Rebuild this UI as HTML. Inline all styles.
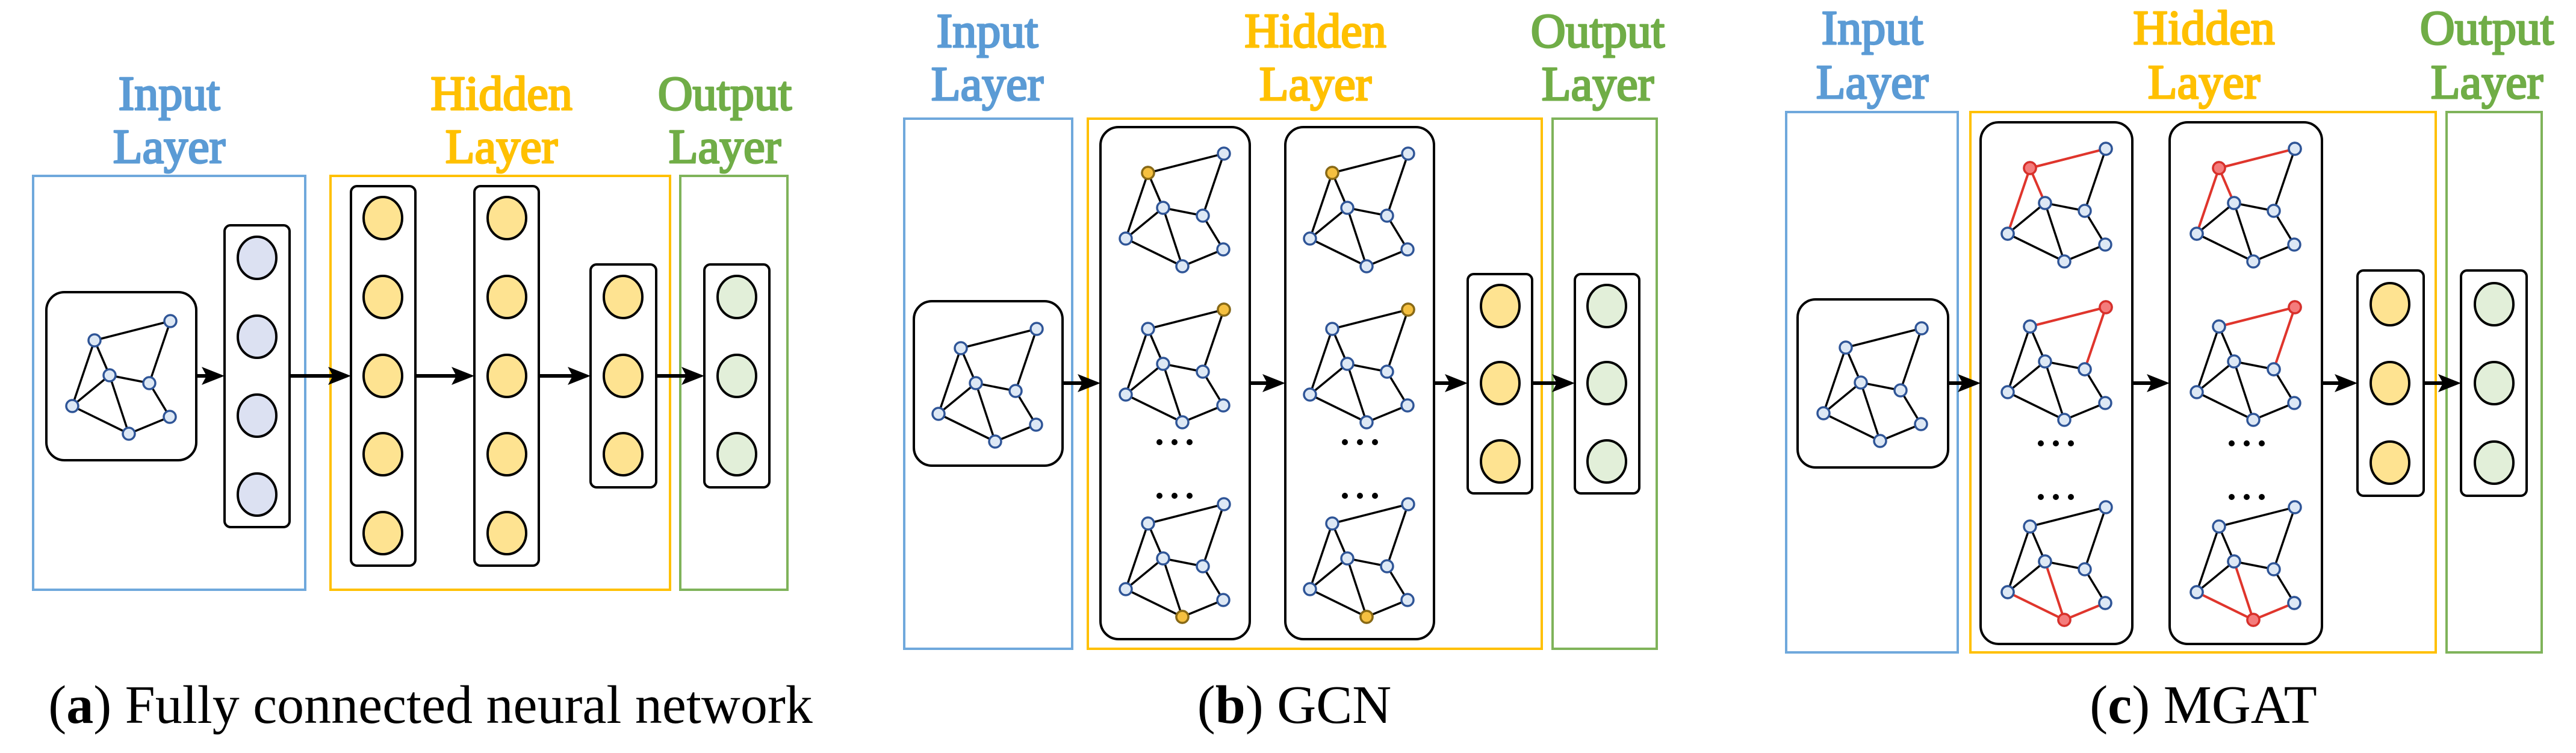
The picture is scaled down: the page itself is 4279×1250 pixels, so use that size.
<!DOCTYPE html>
<html><head><meta charset="utf-8"><style>
html,body{margin:0;padding:0;background:#fff;}
svg{display:block;}
</style></head><body>
<svg width="4279" height="1250" viewBox="0 0 4279 1250" xmlns="http://www.w3.org/2000/svg">
<defs>
<g id="gr">
 <g stroke="#000" stroke-width="3.5" fill="none">
  <line x1="206" y1="48" x2="80" y2="80"/><line x1="80" y1="80" x2="43" y2="189"/>
  <line x1="80" y1="80" x2="105" y2="138"/><line x1="105" y1="138" x2="43" y2="189"/>
  <line x1="105" y1="138" x2="137" y2="235"/><line x1="105" y1="138" x2="171" y2="151"/>
  <line x1="171" y1="151" x2="206" y2="48"/><line x1="171" y1="151" x2="205" y2="207"/>
  <line x1="205" y1="207" x2="137" y2="235"/><line x1="43" y1="189" x2="137" y2="235"/>
 </g>
 <g fill="#dde8f5" stroke="#2f5597" stroke-width="3.5">
  <circle cx="206" cy="48" r="10"/><circle cx="80" cy="80" r="10"/><circle cx="105" cy="138" r="10"/>
  <circle cx="171" cy="151" r="10"/><circle cx="43" cy="189" r="10"/><circle cx="205" cy="207" r="10"/>
  <circle cx="137" cy="235" r="10"/>
 </g>
</g>
<g id="redB">
 <g stroke="#e0352c" stroke-width="4"><line x1="206" y1="48" x2="80" y2="80"/><line x1="80" y1="80" x2="43" y2="189"/><line x1="80" y1="80" x2="105" y2="138"/></g>
 <g fill="#dde8f5" stroke="#2f5597" stroke-width="3.5"><circle cx="206" cy="48" r="10"/><circle cx="43" cy="189" r="10"/><circle cx="105" cy="138" r="10"/></g>
 <circle cx="80" cy="80" r="10" fill="#f47c7c" stroke="#d9302a" stroke-width="3.5"/>
</g>
<g id="redA">
 <g stroke="#e0352c" stroke-width="4"><line x1="206" y1="48" x2="80" y2="80"/><line x1="171" y1="151" x2="206" y2="48"/></g>
 <g fill="#dde8f5" stroke="#2f5597" stroke-width="3.5"><circle cx="80" cy="80" r="10"/><circle cx="171" cy="151" r="10"/></g>
 <circle cx="206" cy="48" r="10" fill="#f47c7c" stroke="#d9302a" stroke-width="3.5"/>
</g>
<g id="redG">
 <g stroke="#e0352c" stroke-width="4"><line x1="105" y1="138" x2="137" y2="235"/><line x1="205" y1="207" x2="137" y2="235"/><line x1="43" y1="189" x2="137" y2="235"/></g>
 <g fill="#dde8f5" stroke="#2f5597" stroke-width="3.5"><circle cx="105" cy="138" r="10"/><circle cx="205" cy="207" r="10"/><circle cx="43" cy="189" r="10"/></g>
 <circle cx="137" cy="235" r="10" fill="#f47c7c" stroke="#d9302a" stroke-width="3.5"/>
</g>
<circle id="gB" r="10" fill="#f5c040" stroke="#8a6a14" stroke-width="3.5"/>
<path id="arr" d="M0 0 L-38 -15 L-30 0 L-38 15 Z" fill="#000"/>
</defs>

<g style="font-family:'Liberation Serif','DejaVu Serif',serif;font-weight:normal" font-size="80" text-anchor="middle" stroke-width="3" stroke-linejoin="round">
<g fill="#5b9bd5" stroke="#5b9bd5">
<text x="281" y="182">Input</text><text x="281" y="270">Layer</text>
<text x="1640" y="78">Input</text><text x="1640" y="166">Layer</text>
<text x="3110" y="73">Input</text><text x="3110" y="163">Layer</text>
</g>
<g fill="#ffc000" stroke="#ffc000">
<text x="833" y="182">Hidden</text><text x="833" y="270">Layer</text>
<text x="2185" y="78">Hidden</text><text x="2185" y="166">Layer</text>
<text x="3661" y="73">Hidden</text><text x="3661" y="163">Layer</text>
</g>
<g fill="#70ad47" stroke="#70ad47">
<text x="1204" y="182">Output</text><text x="1204" y="270">Layer</text>
<text x="2654" y="78">Output</text><text x="2654" y="166">Layer</text>
<text x="4131" y="73">Output</text><text x="4131" y="163">Layer</text>
</g>
</g>

<!-- ========== Panel A ========== -->
<rect x="55" y="292" width="452" height="687" fill="none" stroke="#6fa8dc" stroke-width="4"/>
<rect x="549" y="292" width="564" height="687" fill="none" stroke="#ffc000" stroke-width="4"/>
<rect x="1130" y="292" width="178" height="687" fill="none" stroke="#7fb35a" stroke-width="4"/>
<rect x="77" y="485" width="249" height="279" rx="30" fill="#fff" stroke="#000" stroke-width="4"/>
<use href="#gr" x="77" y="485"/>
<rect x="373" y="374" width="108" height="501" rx="10" fill="#fff" stroke="#000" stroke-width="4"/>
<g fill="#dce1f2" stroke="#000" stroke-width="4">
<ellipse cx="427" cy="428" rx="32" ry="35"/><ellipse cx="427" cy="559" rx="32" ry="35"/><ellipse cx="427" cy="690" rx="32" ry="35"/><ellipse cx="427" cy="821" rx="32" ry="35"/>
</g>
<rect x="583" y="309" width="107" height="630" rx="10" fill="#fff" stroke="#000" stroke-width="4"/>
<rect x="788" y="309" width="107" height="630" rx="10" fill="#fff" stroke="#000" stroke-width="4"/>
<rect x="981" y="439" width="109" height="370" rx="10" fill="#fff" stroke="#000" stroke-width="4"/>
<rect x="1170" y="439" width="108" height="370" rx="10" fill="#fff" stroke="#000" stroke-width="4"/>
<g fill="#fee391" stroke="#000" stroke-width="4">
<ellipse cx="636" cy="362" rx="32" ry="35"/><ellipse cx="636" cy="493" rx="32" ry="35"/><ellipse cx="636" cy="624" rx="32" ry="35"/><ellipse cx="636" cy="754" rx="32" ry="35"/><ellipse cx="636" cy="885" rx="32" ry="35"/>
<ellipse cx="842" cy="362" rx="32" ry="35"/><ellipse cx="842" cy="493" rx="32" ry="35"/><ellipse cx="842" cy="624" rx="32" ry="35"/><ellipse cx="842" cy="754" rx="32" ry="35"/><ellipse cx="842" cy="885" rx="32" ry="35"/>
<ellipse cx="1035" cy="493" rx="32" ry="35"/><ellipse cx="1035" cy="624" rx="32" ry="35"/><ellipse cx="1035" cy="754" rx="32" ry="35"/>
</g>
<g fill="#e2efd9" stroke="#000" stroke-width="4">
<ellipse cx="1224" cy="493" rx="32" ry="35"/><ellipse cx="1224" cy="624" rx="32" ry="35"/><ellipse cx="1224" cy="754" rx="32" ry="35"/>
</g>
<g stroke="#000" stroke-width="6">
<line x1="326" y1="624" x2="350" y2="624"/><line x1="481" y1="624" x2="560" y2="624"/><line x1="690" y1="624" x2="765" y2="624"/><line x1="895" y1="624" x2="958" y2="624"/><line x1="1090" y1="624" x2="1147" y2="624"/>
</g>
<use href="#arr" x="373" y="624"/><use href="#arr" x="583" y="624"/><use href="#arr" x="788" y="624"/><use href="#arr" x="981" y="624"/><use href="#arr" x="1170" y="624"/>

<!-- ========== Panel B ========== -->
<rect x="1502" y="197" width="279" height="880" fill="none" stroke="#6fa8dc" stroke-width="4"/>
<rect x="1807" y="197" width="754" height="880" fill="none" stroke="#ffc000" stroke-width="4"/>
<rect x="2579" y="197" width="173" height="880" fill="none" stroke="#7fb35a" stroke-width="4"/>
<rect x="1518" y="500" width="247" height="273" rx="30" fill="#fff" stroke="#000" stroke-width="4"/>
<use href="#gr" x="1516" y="498"/>
<rect x="1828" y="211" width="248" height="850" rx="30" fill="#fff" stroke="#000" stroke-width="4"/>
<rect x="2135" y="211" width="247" height="850" rx="30" fill="#fff" stroke="#000" stroke-width="4"/>
<use href="#gr" x="1827" y="207"/><use href="#gr" x="1827" y="466"/><use href="#gr" x="1827" y="789"/>
<use href="#gr" x="2133" y="207"/><use href="#gr" x="2133" y="466"/><use href="#gr" x="2133" y="789"/>
<use href="#gB" x="1907" y="287"/><use href="#gB" x="2033" y="514"/><use href="#gB" x="1964" y="1024"/>
<use href="#gB" x="2213" y="287"/><use href="#gB" x="2339" y="514"/><use href="#gB" x="2270" y="1024"/>
<g fill="#000">
<circle cx="1926" cy="734" r="5"/><circle cx="1951" cy="734" r="5"/><circle cx="1976" cy="734" r="5"/>
<circle cx="1926" cy="823" r="5"/><circle cx="1951" cy="823" r="5"/><circle cx="1976" cy="823" r="5"/>
<circle cx="2234" cy="734" r="5"/><circle cx="2259" cy="734" r="5"/><circle cx="2284" cy="734" r="5"/>
<circle cx="2234" cy="823" r="5"/><circle cx="2259" cy="823" r="5"/><circle cx="2284" cy="823" r="5"/>
</g>
<rect x="2438" y="455" width="107" height="364" rx="10" fill="#fff" stroke="#000" stroke-width="4"/>
<rect x="2616" y="455" width="107" height="364" rx="10" fill="#fff" stroke="#000" stroke-width="4"/>
<g fill="#fee391" stroke="#000" stroke-width="4">
<ellipse cx="2492" cy="508" rx="32" ry="35"/><ellipse cx="2492" cy="636" rx="32" ry="35"/><ellipse cx="2492" cy="766" rx="32" ry="35"/>
</g>
<g fill="#e2efd9" stroke="#000" stroke-width="4">
<ellipse cx="2669" cy="508" rx="32" ry="35"/><ellipse cx="2669" cy="636" rx="32" ry="35"/><ellipse cx="2669" cy="766" rx="32" ry="35"/>
</g>
<g stroke="#000" stroke-width="6">
<line x1="1765" y1="636" x2="1805" y2="636"/><line x1="2076" y1="636" x2="2112" y2="636"/><line x1="2382" y1="636" x2="2415" y2="636"/><line x1="2545" y1="636" x2="2593" y2="636"/>
</g>
<use href="#arr" x="1828" y="636"/><use href="#arr" x="2135" y="636"/><use href="#arr" x="2438" y="636"/><use href="#arr" x="2616" y="636"/>

<!-- ========== Panel C ========== -->
<rect x="2967" y="186" width="285" height="897" fill="none" stroke="#6fa8dc" stroke-width="4"/>
<rect x="3273" y="186" width="773" height="897" fill="none" stroke="#ffc000" stroke-width="4"/>
<rect x="4064" y="186" width="158" height="897" fill="none" stroke="#7fb35a" stroke-width="4"/>
<rect x="2986" y="497" width="250" height="279" rx="30" fill="#fff" stroke="#000" stroke-width="4"/>
<use href="#gr" x="2986" y="497"/>
<rect x="3290" y="203" width="252" height="866" rx="30" fill="#fff" stroke="#000" stroke-width="4"/>
<rect x="3604" y="203" width="253" height="866" rx="30" fill="#fff" stroke="#000" stroke-width="4"/>
<use href="#gr" x="3292" y="199"/><use href="#gr" x="3292" y="462"/><use href="#gr" x="3292" y="794"/>
<use href="#gr" x="3606" y="199"/><use href="#gr" x="3606" y="462"/><use href="#gr" x="3606" y="794"/>
<use href="#redB" x="3292" y="199"/><use href="#redA" x="3292" y="462"/><use href="#redG" x="3292" y="794"/>
<use href="#redB" x="3606" y="199"/><use href="#redA" x="3606" y="462"/><use href="#redG" x="3606" y="794"/>
<g fill="#000">
<circle cx="3390" cy="736" r="5"/><circle cx="3415" cy="736" r="5"/><circle cx="3440" cy="736" r="5"/>
<circle cx="3390" cy="825" r="5"/><circle cx="3415" cy="825" r="5"/><circle cx="3440" cy="825" r="5"/>
<circle cx="3707" cy="736" r="5"/><circle cx="3732" cy="736" r="5"/><circle cx="3757" cy="736" r="5"/>
<circle cx="3707" cy="825" r="5"/><circle cx="3732" cy="825" r="5"/><circle cx="3757" cy="825" r="5"/>
</g>
<rect x="3916" y="449" width="110" height="374" rx="10" fill="#fff" stroke="#000" stroke-width="4"/>
<rect x="4088" y="449" width="109" height="374" rx="10" fill="#fff" stroke="#000" stroke-width="4"/>
<g fill="#fee391" stroke="#000" stroke-width="4">
<ellipse cx="3970" cy="505" rx="32" ry="35"/><ellipse cx="3970" cy="636" rx="32" ry="35"/><ellipse cx="3970" cy="768" rx="32" ry="35"/>
</g>
<g fill="#e2efd9" stroke="#000" stroke-width="4">
<ellipse cx="4143" cy="505" rx="32" ry="35"/><ellipse cx="4143" cy="636" rx="32" ry="35"/><ellipse cx="4143" cy="768" rx="32" ry="35"/>
</g>
<g stroke="#000" stroke-width="6">
<line x1="3236" y1="636" x2="3267" y2="636"/><line x1="3542" y1="636" x2="3581" y2="636"/><line x1="3857" y1="636" x2="3893" y2="636"/><line x1="4026" y1="636" x2="4065" y2="636"/>
</g>
<use href="#arr" x="3290" y="636"/><use href="#arr" x="3604" y="636"/><use href="#arr" x="3916" y="636"/><use href="#arr" x="4088" y="636"/>

<g style="font-family:'Liberation Serif','DejaVu Serif',serif" font-size="90" text-anchor="middle" fill="#000">
<text x="715" y="1200">(<tspan font-weight="bold">a</tspan>) Fully connected neural network</text>
<text x="2150" y="1200">(<tspan font-weight="bold">b</tspan>) GCN</text>
<text x="3660" y="1200">(<tspan font-weight="bold">c</tspan>) MGAT</text>
</g>
</svg>
</body></html>
